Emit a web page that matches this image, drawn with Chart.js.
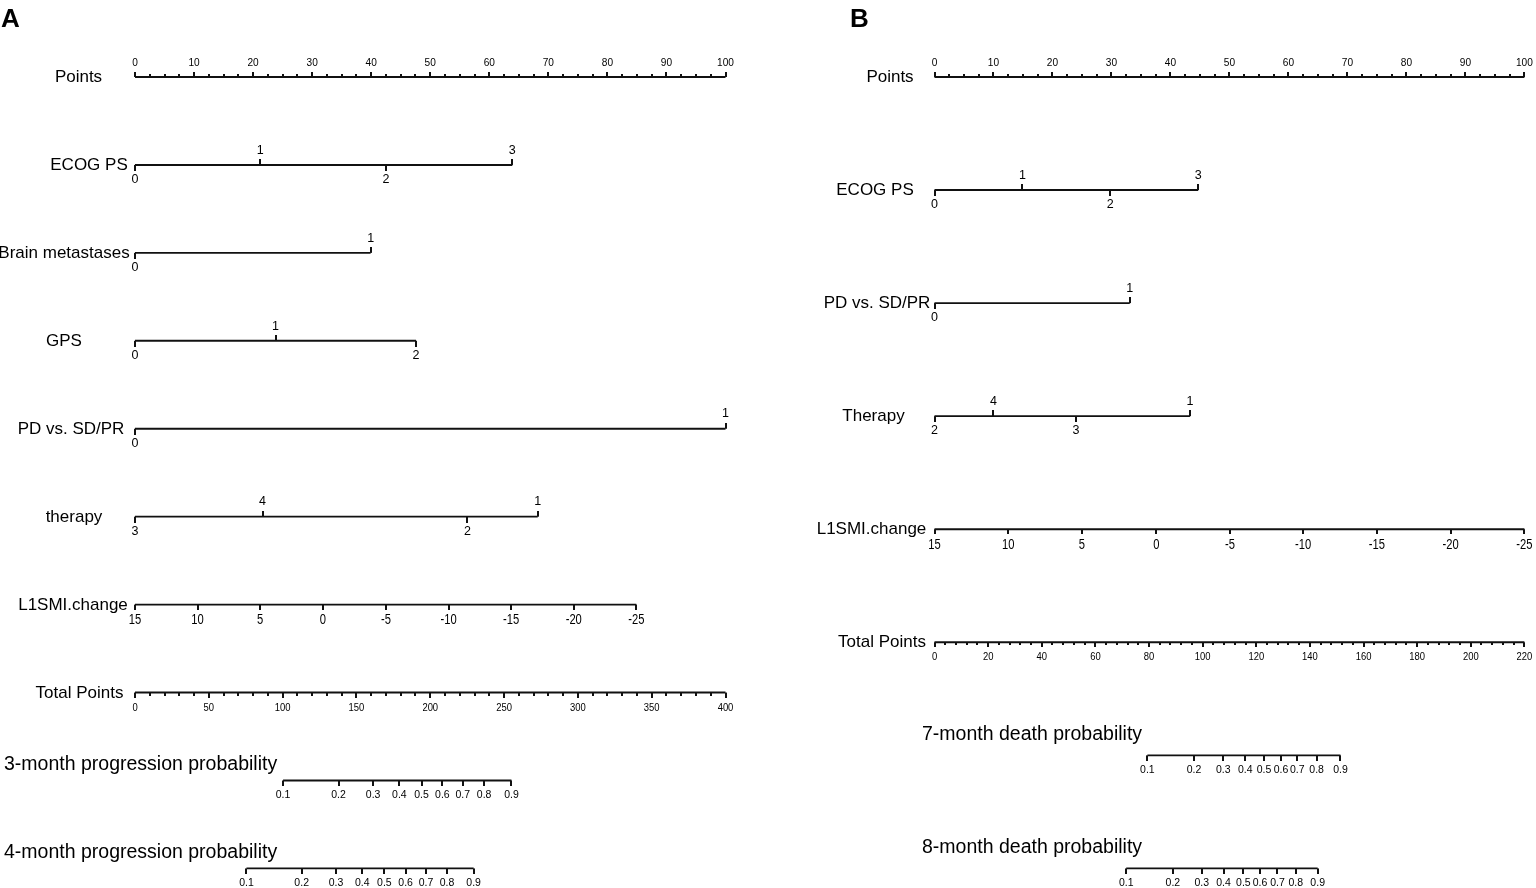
<!DOCTYPE html>
<html>
<head>
<meta charset="utf-8">
<script src="https://cdn.jsdelivr.net/npm/chart.js@4.4.0/dist/chart.umd.min.js"></script>
<style>
html,body{margin:0;padding:0;background:#fff;overflow:hidden}
#wrap{position:relative;width:1536px;height:888px;background:#fff}
canvas{position:absolute;top:0}
#cA{left:0}
#cB{left:768px}
</style>
</head>
<body>
<div id="wrap">
<canvas id="cA" width="768" height="888"></canvas>
<canvas id="cB" width="768" height="888"></canvas>
</div>
<script>
// ================= DATA =================
// Points scale (both panels)
const pointsTicks = [0,10,20,30,40,50,60,70,80,90,100];
const pointsMinorStep = 2.5;

// ---- Panel A ----
const ecogA_levels = ['0','1','2','3'];
const ecogA_points = [0, 21.2, 42.5, 63.9];
const brainA_levels = ['0','1'];
const brainA_points = [0, 39.9];
const gpsA_levels = ['0','1','2'];
const gpsA_points = [0, 23.8, 47.6];
const pdA_levels = ['0','1'];
const pdA_points = [0, 100];
const therapyA_levels = ['3','4','2','1'];
const therapyA_points = [0, 21.6, 56.3, 68.2];
const l1smiA_values = ['15','10','5','0','-5','-10','-15','-20','-25'];
const l1smiA_points = [0, 10.6, 21.2, 31.8, 42.5, 53.1, 63.7, 74.3, 84.9];
const totalA_ticks = [0,50,100,150,200,250,300,350,400];
const totalA_max = 400;
const totalA_minorStep = 10;
const probLevels = ['0.1','0.2','0.3','0.4','0.5','0.6','0.7','0.8','0.9'];
const prog3A_total = [100.3, 137.9, 161.3, 179.1, 194.1, 208.2, 222.0, 236.5, 255.0];
const prog4A_total = [75.5, 112.9, 136.2, 153.9, 168.9, 183.3, 197.1, 211.4, 229.4];

// ---- Panel B ----
const ecogB_levels = ['0','1','2','3'];
const ecogB_points = [0, 14.9, 29.8, 44.7];
const pdB_levels = ['0','1'];
const pdB_points = [0, 33.1];
const therapyB_levels = ['2','4','3','1'];
const therapyB_points = [0, 10.0, 24.0, 43.3];
const l1smiB_values = ['15','10','5','0','-5','-10','-15','-20','-25'];
const l1smiB_points = [0, 12.5, 25.0, 37.6, 50.1, 62.5, 75.0, 87.5, 100];
const totalB_ticks = [0,20,40,60,80,100,120,140,160,180,200,220];
const totalB_max = 220;
const totalB_minorStep = 4;
const death7B_total = [79.4, 96.8, 107.7, 115.9, 122.9, 129.2, 135.3, 142.5, 151.4];
const death8B_total = [71.5, 88.9, 99.7, 107.8, 115.2, 121.4, 127.9, 134.7, 142.9];

// ================= ROW DEFINITIONS =================
const rowsA = [
  {name:'Points', kind:'points', ticks:pointsTicks, minor:pointsMinorStep, max:100},
  {name:'ECOG PS', kind:'cat', labels:ecogA_levels, values:ecogA_points},
  {name:'Brain metastases', kind:'cat', labels:brainA_levels, values:brainA_points},
  {name:'GPS', kind:'cat', labels:gpsA_levels, values:gpsA_points},
  {name:'PD vs. SD/PR', kind:'cat', labels:pdA_levels, values:pdA_points},
  {name:'therapy', kind:'cat', labels:therapyA_levels, values:therapyA_points},
  {name:'L1SMI.change', kind:'cont', labels:l1smiA_values, values:l1smiA_points},
  {name:'Total Points', kind:'total', ticks:totalA_ticks, minor:totalA_minorStep, max:totalA_max},
  {name:'3-month progression probability', kind:'prob', labels:probLevels, values:prog3A_total},
  {name:'4-month progression probability', kind:'prob', labels:probLevels, values:prog4A_total}
];
const rowsB = [
  {name:'Points', kind:'points', ticks:pointsTicks, minor:pointsMinorStep, max:100},
  {name:'ECOG PS', kind:'cat', labels:ecogB_levels, values:ecogB_points},
  {name:'PD vs. SD/PR', kind:'cat', labels:pdB_levels, values:pdB_points},
  {name:'Therapy', kind:'cat', labels:therapyB_levels, values:therapyB_points},
  {name:'L1SMI.change', kind:'cont', labels:l1smiB_values, values:l1smiB_points},
  {name:'Total Points', kind:'total', ticks:totalB_ticks, minor:totalB_minorStep, max:totalB_max},
  {name:'7-month death probability', kind:'prob', labels:probLevels, values:death7B_total},
  {name:'8-month death probability', kind:'prob', labels:probLevels, values:death8B_total}
];

// ================= LAYOUT / STYLE =================
const FONT = '"Liberation Sans", Arial, Helvetica, sans-serif';
const layoutA = {
  pad:{left:135, right:42.5, top:77, bottom:19.6},
  titleCenters:[78.5, 89, 64, 64, 71, 74, 73, 79.5],
  probTitleX:4, probTitleDy:-10.5,
  letter:'A', letterX:1
};
const layoutB = {
  pad:{left:166.5, right:11.6, top:77, bottom:19.6},
  titleCenters:[122, 107, 109, 105.5, 103.5, 114],
  probTitleX:154, probTitleDy:-15,
  letter:'B', letterX:82
};
const TICK_LEN = {major:5, minor:3, cat:5.5, cont:5, prob:5.5};
const LINE_W = 1.9;
const INK = '#111';

const tickCache = {};
function tickImage(dir, len) {
  const key = dir + len;
  if (tickCache[key]) return tickCache[key];
  const L = Math.round(TICK_LEN[len]);
  const c = document.createElement('canvas');
  c.width = 2; c.height = 2 * L;
  const g = c.getContext('2d');
  g.fillStyle = INK;
  if (dir === 'up') g.fillRect(0, 0, 2, L); else g.fillRect(0, L, 2, L);
  tickCache[key] = c;
  return c;
}

function seg(a, b, r, axis) {
  return {
    data:[{x:a, y:r}, {x:b, y:r}],
    xAxisID: axis, yAxisID:'y',
    showLine:true, borderColor:INK, borderWidth:LINE_W,
    pointRadius:0, pointHoverRadius:0, clip:false, borderCapStyle:'butt'
  };
}

function sortedDirs(values) {
  const idx = values.map((v,i)=>i).sort((a,b)=>values[a]-values[b]);
  const dirs = new Array(values.length);
  idx.forEach((k, order) => { dirs[k] = (order % 2 === 0) ? 'down' : 'up'; });
  return dirs;
}

function txt(ctx, s, x, y, size, o) {
  o = o || {};
  ctx.save();
  ctx.font = (o.bold ? 'bold ' : '') + size + 'px ' + FONT;
  ctx.fillStyle = '#000';
  ctx.textAlign = o.align || 'center';
  ctx.textBaseline = o.base || 'middle';
  ctx.translate(x, y);
  if (o.sx) ctx.scale(o.sx, 1);
  ctx.fillText(s, 0, 0);
  ctx.restore();
}

function makePanel(canvasId, rows, lay) {
  const datasets = [];
  const ticksX = [], ticksT = [];
  let totalMax = 100;
  rows.forEach((row, r) => {
    if (row.kind === 'points') {
      datasets.push(seg(0, row.max, r, 'x'));
      row.ticks.forEach(v => ticksX.push({x:v, y:r, dir:'up', len:'major'}));
      for (let v = 0; v <= row.max; v += row.minor) {
        if (!row.ticks.includes(v)) ticksX.push({x:v, y:r, dir:'up', len:'minor'});
      }
    } else if (row.kind === 'cat') {
      const mn = Math.min(...row.values), mx = Math.max(...row.values);
      datasets.push(seg(mn, mx, r, 'x'));
      const dirs = sortedDirs(row.values);
      row.values.forEach((v,i) => ticksX.push({x:v, y:r, dir:dirs[i], len:'cat'}));
    } else if (row.kind === 'cont') {
      const mn = Math.min(...row.values), mx = Math.max(...row.values);
      datasets.push(seg(mn, mx, r, 'x'));
      row.values.forEach(v => ticksX.push({x:v, y:r, dir:'down', len:'cont'}));
    } else if (row.kind === 'total') {
      totalMax = row.max;
      datasets.push(seg(0, row.max, r, 'xt'));
      row.ticks.forEach(v => ticksT.push({x:v, y:r, dir:'down', len:'major'}));
      for (let v = 0; v <= row.max; v += row.minor) {
        if (!row.ticks.includes(v)) ticksT.push({x:v, y:r, dir:'down', len:'minor'});
      }
    } else if (row.kind === 'prob') {
      const mn = Math.min(...row.values), mx = Math.max(...row.values);
      datasets.push(seg(mn, mx, r, 'xt'));
      row.values.forEach(v => ticksT.push({x:v, y:r, dir:'down', len:'prob'}));
    }
  });
  const tickStyle = ctx => (ctx.raw ? tickImage(ctx.raw.dir, ctx.raw.len) : 'circle');
  datasets.push({data:ticksX, xAxisID:'x', yAxisID:'y', showLine:false, pointStyle:tickStyle, pointRadius:3, pointHoverRadius:3, clip:false});
  datasets.push({data:ticksT, xAxisID:'xt', yAxisID:'y', showLine:false, pointStyle:tickStyle, pointRadius:3, pointHoverRadius:3, clip:false});

  const textPlugin = {
    id:'nomoText',
    afterDraw(chart) {
      const ctx = chart.ctx;
      const sx = chart.scales.x, st = chart.scales.xt, sy = chart.scales.y;
      rows.forEach((row, r) => {
        const y = sy.getPixelForValue(r);
        if (row.kind === 'prob') {
          txt(ctx, row.name, lay.probTitleX, y + lay.probTitleDy, 19.5, {align:'left', base:'alphabetic'});
        } else {
          txt(ctx, row.name, lay.titleCenters[r], y + 0.5, 17);
        }
        if (row.kind === 'points') {
          row.ticks.forEach(v => txt(ctx, String(v), sx.getPixelForValue(v), y - 14.5, 11, {sx:0.92}));
        } else if (row.kind === 'cat') {
          const dirs = sortedDirs(row.values);
          row.values.forEach((v,i) => {
            const dy = dirs[i] === 'up' ? -14.7 : 14.7;
            txt(ctx, row.labels[i], sx.getPixelForValue(v), y + dy, 12.5);
          });
        } else if (row.kind === 'cont') {
          row.values.forEach((v,i) => txt(ctx, row.labels[i], sx.getPixelForValue(v), y + 15.5, 14, {sx:0.8}));
        } else if (row.kind === 'total') {
          row.ticks.forEach(v => txt(ctx, String(v), st.getPixelForValue(v), y + 15, 11.5, {sx:0.82}));
        } else if (row.kind === 'prob') {
          row.values.forEach((v,i) => txt(ctx, row.labels[i], st.getPixelForValue(v), y + 15, 10.5));
        }
      });
      txt(ctx, lay.letter, lay.letterX, 27, 26, {bold:true, align:'left', base:'alphabetic'});
    }
  };

  return new Chart(document.getElementById(canvasId), {
    type:'scatter',
    data:{datasets},
    options:{
      responsive:false,
      animation:false,
      devicePixelRatio:1,
      events:[],
      layout:{padding:lay.pad},
      plugins:{legend:{display:false}, tooltip:{enabled:false}, title:{display:false}},
      scales:{
        x:{type:'linear', min:0, max:100, display:false},
        xt:{type:'linear', axis:'x', min:0, max:totalMax, display:false},
        y:{type:'linear', min:0, max:rows.length-1, reverse:true, display:false}
      }
    },
    plugins:[textPlugin]
  });
}

makePanel('cA', rowsA, layoutA);
makePanel('cB', rowsB, layoutB);
</script>
</body>
</html>
